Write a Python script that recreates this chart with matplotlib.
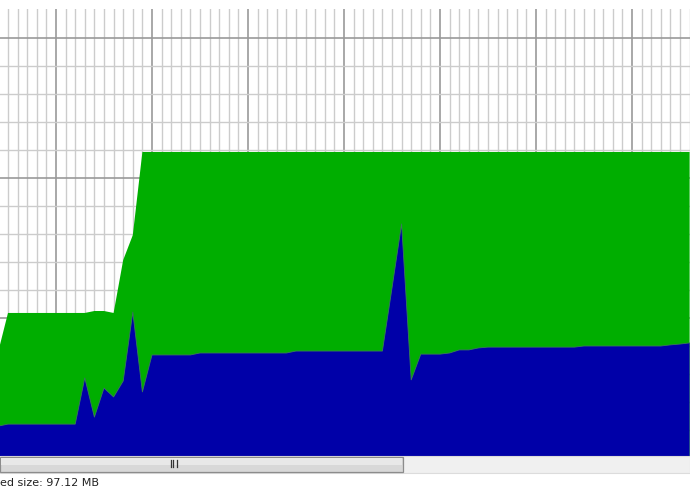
import numpy as np
import matplotlib
matplotlib.use("Agg")
import matplotlib.pyplot as plt
from matplotlib.patches import Rectangle
from matplotlib.lines import Line2D
from matplotlib.ticker import MultipleLocator, FixedLocator

# sample index (one per minor grid column)
samples = list(range(-6, 67))

# total (green) series
total = ([3.82] + [5.18] * 9 + [5.25, 5.25, 5.18, 7.07, 7.96]
         + [10.93] * 58)

# used (blue) series
used = ([1.14] + [1.21] * 8
        + [2.86, 1.46, 2.50, 2.18, 2.75, 5.21, 2.36]
        + [3.68] * 5 + [3.75] * 10 + [3.82] * 10
        + [6.07, 8.36, 2.79, 3.71, 3.71, 3.71, 3.75, 3.86, 3.86, 3.93]
        + [3.96] * 10 + [4.00] * 9 + [4.04, 4.07, 4.11])

status_text = "ed size: 97.12 MB"

fig = plt.figure(figsize=(6.9, 5.0), dpi=100)
fig.patch.set_facecolor("white")
ax = fig.add_axes([0, 44 / 500, 1, 447 / 500])
ax.set_xlim(-56 / 9.6, (690 - 56) / 9.6)
ax.set_ylim(2 / 28, 449 / 28)

ax.xaxis.set_major_locator(MultipleLocator(10))
ax.xaxis.set_minor_locator(MultipleLocator(1))
ax.yaxis.set_major_locator(FixedLocator([5, 10, 15]))
ax.yaxis.set_minor_locator(FixedLocator(list(range(1, 16))))
ax.grid(which="minor", color="#cccccc", linewidth=1.0)
ax.grid(which="major", color="#999999", linewidth=1.2)
ax.set_axisbelow(True)
ax.tick_params(which="both", length=0, labelbottom=False, labelleft=False)
for s in ax.spines.values():
    s.set_visible(False)

x = np.array(samples, dtype=float)
ax.fill_between(x, -1, total, color="#00ae00", linewidth=0, zorder=3)
ax.fill_between(x, -1, used, color="#0000a8", linewidth=0, zorder=4)
ax.plot(x, used, color="#3a7a5a", linewidth=0.6, zorder=5)

# scrollbar
track = Rectangle((0, (500 - 473) / 500), 1, 17 / 500, transform=fig.transFigure,
                  facecolor="#f0f0f0", edgecolor="#dcdcdc", linewidth=0.8)
fig.add_artist(track)
thumb = Rectangle((0, (500 - 472) / 500), 403 / 690, 15 / 500,
                  transform=fig.transFigure, facecolor="#d8d8d8",
                  edgecolor="#8c8c8c", linewidth=0.9)
fig.add_artist(thumb)
hl = Rectangle((1 / 690, (500 - 465) / 500), 401 / 690, 7 / 500,
               transform=fig.transFigure, facecolor="#e8e8e8", linewidth=0)
fig.add_artist(hl)
for gx in (170.5, 173.5, 176.5):
    fig.add_artist(Line2D([gx / 690, gx / 690], [(500 - 467) / 500, (500 - 460) / 500],
                          transform=fig.transFigure, color="#333333", linewidth=0.9))

fig.text(0.0, (500 - 483) / 500, status_text, fontsize=8, ha="left",
         va="center", color="#222222", family="DejaVu Sans")

fig.savefig("out.png", dpi=100)
